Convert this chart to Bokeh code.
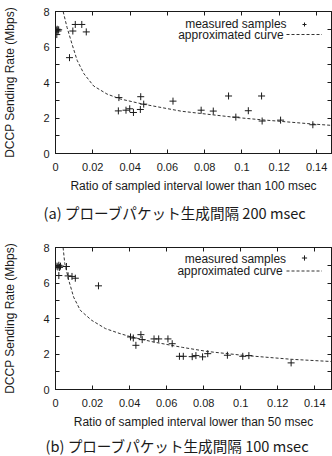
from bokeh.plotting import figure
from bokeh.layouts import column
from bokeh.models import Range1d, FixedTicker, LinearAxis, Label, Legend, LegendItem, Title
from bokeh.embed import file_html
from bokeh.resources import INLINE

# ---------------- data (a) ----------------
a_x = [0.0004, 0.0009, 0.0013, 0.0017, 0.0007, 0.0075, 0.0093, 0.0106, 0.0141, 0.0165,
       0.0340, 0.0457, 0.0473, 0.0630, 0.0337, 0.0378, 0.0398, 0.0418, 0.0455,
       0.0781, 0.0846, 0.0928, 0.0967, 0.1034, 0.1105, 0.1108, 0.1207, 0.1380]
a_y = [6.95, 7.00, 6.90, 6.97, 6.70, 5.40, 6.90, 7.27, 7.27, 6.85,
       3.15, 3.20, 2.78, 2.95, 2.40, 2.44, 2.52, 2.31, 2.48,
       2.44, 2.39, 3.24, 2.05, 2.41, 3.24, 1.83, 1.88, 1.62]
a_curve_x = [0.0041, 0.0062, 0.0089, 0.0116, 0.0152, 0.0205, 0.0276, 0.0348, 0.0470,
             0.0676, 0.0967, 0.1105, 0.1380, 0.1500]
a_curve_y = [8.00, 7.10, 6.15, 5.25, 4.50, 3.80, 3.35, 3.07, 2.78,
             2.38, 2.03, 1.90, 1.66, 1.57]

# ---------------- data (b) ----------------
b_x = [0.0008, 0.0013, 0.0018, 0.0022, 0.0027, 0.0059, 0.0018, 0.0068, 0.0089, 0.0107, 0.0232,
       0.0405, 0.0420, 0.0434, 0.0461, 0.0468, 0.0532, 0.0557, 0.0607, 0.0630,
       0.0669, 0.0690, 0.0738, 0.0758, 0.0794, 0.0822, 0.0928, 0.1011, 0.1044, 0.1272]
b_y = [6.95, 6.90, 7.00, 6.88, 6.95, 6.93, 6.42, 6.40, 6.37, 6.27, 5.84,
       2.96, 2.90, 2.49, 3.09, 2.81, 2.85, 2.85, 2.85, 2.58,
       1.87, 1.87, 1.85, 1.91, 1.84, 2.02, 1.93, 1.87, 1.91, 1.50]
b_curve_x = [0.0041, 0.0050, 0.0072, 0.0098, 0.0134, 0.0195, 0.0270, 0.0348, 0.0410,
             0.0527, 0.0687, 0.0821, 0.1008, 0.1276, 0.1500]
b_curve_y = [8.00, 7.10, 6.14, 5.20, 4.46, 3.90, 3.43, 3.15, 2.96,
             2.68, 2.37, 2.14, 1.93, 1.70, 1.57]

# ---------------- ticks / texts ----------------
x_ticks = [0, 0.02, 0.04, 0.06, 0.08, 0.1, 0.12, 0.14]
x_tick_labels = ["0", "0.02", "0.04", "0.06", "0.08", "0.1", "0.12", "0.14"]
y_ticks = [0, 2, 4, 6, 8]
y_minor_ticks = [1, 3, 5, 7]
y_tick_labels = ["0", "2", "4", "6", "8"]

y_label = "DCCP Sending Rate (Mbps)"
a_xlabel = "Ratio of sampled interval lower than 100 msec"
b_xlabel = "Ratio of sampled interval lower than 50 msec"
a_caption = "(a) プローブパケット生成間隔 200 msec"
b_caption = "(b) プローブパケット生成間隔 100 msec"
legend_labels = ["measured samples", "approximated curve"]

FONT = "Liberation Sans"
CJK = "Noto Sans CJK JP"
INK = "#1a1a1a"


def style_axis(ax, ticks, labels, minor=None, show_labels=True):
    ax.ticker = FixedTicker(ticks=ticks, minor_ticks=minor or [])
    if show_labels:
        ax.major_label_overrides = {t: l for t, l in zip(ticks, labels)}
    else:
        ax.major_label_overrides = {t: "" for t in ticks}
        ax.major_label_standoff = 0
    ax.major_tick_in = 4
    ax.major_tick_out = 0
    ax.minor_tick_in = 4 if minor else 0
    ax.minor_tick_out = 0
    ax.major_tick_line_color = INK
    ax.minor_tick_line_color = INK if minor else None
    ax.axis_line_color = INK
    ax.major_label_text_font = FONT
    ax.major_label_text_color = INK
    ax.major_label_text_font_size = "11px"


def make_panel(xs, ys, cx, cy, xlabel, caption, height, x_end, border_left, border_top,
               border_bottom, lab_xy, leg_loc, glyph_h, cap_offset, cap_standoff):
    p = figure(width=332, height=height, output_backend="svg", toolbar_location=None,
               x_range=Range1d(0, x_end), y_range=Range1d(0, 8),
               min_border_left=border_left, min_border_right=1,
               min_border_top=border_top, min_border_bottom=border_bottom,
               background_fill_color="white", border_fill_color="white")
    p.grid.visible = False
    p.outline_line_color = INK
    p.outline_line_width = 1

    # curve and points
    r_curve = p.line(cx, cy, line_color="#333333", line_width=1, line_dash="3 2")
    r_pts = p.scatter(xs, ys, marker="cross", size=7, line_color=INK, line_width=1)

    # axes
    style_axis(p.xaxis[0], x_ticks, x_tick_labels)
    style_axis(p.yaxis[0], y_ticks, y_tick_labels, y_minor_ticks)
    p.xaxis[0].major_label_standoff = 9
    p.yaxis[0].major_label_standoff = 6
    p.xaxis[0].axis_label = xlabel
    p.yaxis[0].axis_label = y_label
    for ax in (p.xaxis[0], p.yaxis[0]):
        ax.axis_label_text_font = FONT
        ax.axis_label_text_font_size = "12px"
        ax.axis_label_text_font_style = "normal"
        ax.axis_label_text_color = INK
    p.xaxis[0].axis_label_standoff = 5
    p.yaxis[0].axis_label_standoff = 23

    top = LinearAxis()
    style_axis(top, x_ticks, x_tick_labels, show_labels=False)
    p.add_layout(top, "above")
    right = LinearAxis()
    style_axis(right, y_ticks, y_tick_labels, y_minor_ticks, show_labels=False)
    p.add_layout(right, "right")

    # key (gnuplot style: text right-justified, sample on the right)
    for (lx, ly), txt in zip(lab_xy, legend_labels):
        p.add_layout(Label(x=lx, y=ly, text=txt, text_align="right",
                           text_baseline="middle", text_font=FONT, text_font_size="12px",
                           text_color=INK))
    leg = Legend(items=[LegendItem(label="", renderers=[r_pts]),
                        LegendItem(label="", renderers=[r_curve])],
                 location=leg_loc, glyph_width=36, glyph_height=glyph_h,
                 label_width=0, label_height=glyph_h, label_standoff=0,
                 label_text_font_size="1px", padding=0, margin=0, spacing=0,
                 border_line_color=None, background_fill_alpha=0)
    p.add_layout(leg, "center")

    p.add_layout(Title(text=caption, align="left", offset=cap_offset,
                       text_font=CJK, text_font_size="14.6px", text_font_style="normal",
                       text_color=INK, standoff=cap_standoff), "below")
    return p


pa = make_panel(a_x, a_y, a_curve_x, a_curve_y, a_xlabel, a_caption,
                height=228, x_end=0.148, border_left=54, border_top=11, border_bottom=75,
                lab_xy=((0.1239, 7.27), (0.1223, 6.69)), leg_loc=(231, 114), glyph_h=10,
                cap_offset=-12, cap_standoff=8)
pb = make_panel(b_x, b_y, b_curve_x, b_curve_y, b_xlabel, b_caption,
                height=228, x_end=0.149, border_left=52, border_top=19, border_bottom=66,
                lab_xy=((0.1245, 7.37), (0.1227, 6.66)), leg_loc=(231, 112), glyph_h=13,
                cap_offset=-10, cap_standoff=2)

layout = column(pa, pb)
open("out.html", "w").write(file_html(layout, INLINE))
